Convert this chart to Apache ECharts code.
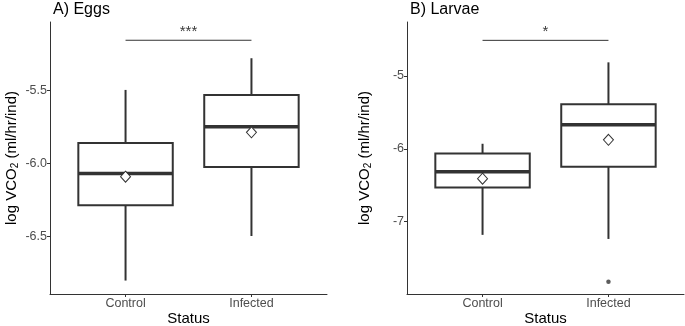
<!DOCTYPE html>
<html>
<head>
<meta charset="utf-8">
<script src="https://cdn.jsdelivr.net/npm/echarts@6/dist/echarts.min.js"></script>
<style>
html,body{margin:0;padding:0;background:#fff;}
#chart{width:685px;height:326px;}
</style>
</head>
<body>
<div id="chart"></div>
<script>
// ---- data ----
const categories = ['Control', 'Infected'];
const categoryPos = [1, 2];

// A) Eggs
const eggsLow    = [-6.800, -6.495];
const eggsQ1     = [-6.285, -6.023];
const eggsMedian = [-6.067, -5.747];
const eggsQ3     = [-5.858, -5.529];
const eggsHigh   = [-5.495, -5.278];
const eggsMean   = [-6.089, -5.785];
const eggsTicks  = [-6.5, -6.0, -5.5];
const eggsSigY   = -5.155;
const eggsSigLabel = '***';

// B) Larvae
const larvaeLow    = [-7.181, -7.237];
const larvaeQ1     = [-6.530, -6.247];
const larvaeMedian = [-6.316, -5.670];
const larvaeQ3     = [-6.065, -5.389];
const larvaeHigh   = [-5.930, -4.812];
const larvaeMean   = [-6.410, -5.876];
const larvaeOutliers = [[2, -7.824]];
const larvaeTicks  = [-7, -6, -5];
const larvaeSigY   = -4.51;
const larvaeSigLabel = '*';

// ---- build ----
function boxData(lo, q1, med, q3, hi) {
  return categoryPos.map((x, i) => [x, lo[i], q1[i], med[i], q3[i], hi[i]]);
}
function meanData(m) { return categoryPos.map((x, i) => [x, m[i]]); }

const DARK = '#333333';
const FONT = '"Liberation Sans", Arial, Helvetica, sans-serif';

function renderBox(params, api) {
  const x = api.value(0);
  const lo = api.coord([x, api.value(1)]);
  const q1 = api.coord([x, api.value(2)]);
  const med = api.coord([x, api.value(3)]);
  const q3 = api.coord([x, api.value(4)]);
  const hi = api.coord([x, api.value(5)]);
  const hw = api.size([0.75, 0])[0] / 2;
  const st = { stroke: DARK, lineWidth: 2, fill: null };
  return {
    type: 'group',
    children: [
      { type: 'line', shape: { x1: lo[0], y1: lo[1], x2: q1[0], y2: q1[1] }, style: st },
      { type: 'line', shape: { x1: q3[0], y1: q3[1], x2: hi[0], y2: hi[1] }, style: st },
      { type: 'rect', shape: { x: q1[0] - hw, y: q3[1], width: 2 * hw, height: q1[1] - q3[1] },
        style: { fill: '#ffffff', stroke: DARK, lineWidth: 2 } },
      { type: 'line', shape: { x1: med[0] - hw, y1: med[1], x2: med[0] + hw, y2: med[1] },
        style: { stroke: DARK, lineWidth: 3.5 } }
    ]
  };
}

function xAxis(gridIndex) {
  return {
    type: 'value', gridIndex: gridIndex, min: 0.4, max: 2.6,
    name: 'Status', nameLocation: 'middle', nameGap: 17, nameMoveOverlap: false,
    nameTextStyle: { fontSize: 15, color: '#000', fontFamily: FONT },
    axisLine: { show: true, onZero: false, lineStyle: { color: DARK, width: 1 } },
    axisTick: { show: true, length: 3, customValues: categoryPos, lineStyle: { color: DARK } },
    axisLabel: { customValues: categoryPos, margin: 3, fontSize: 12.5, color: '#4d4d4d', fontFamily: FONT,
      formatter: v => categories[Math.round(v) - 1] || '' },
    splitLine: { show: false }
  };
}
const yName = 'log VCO{sub|2} (ml/hr/ind)';
function yAxis(gridIndex, min, max, ticks, digits, gap) {
  return {
    type: 'value', gridIndex: gridIndex, min: min, max: max,
    name: yName, nameLocation: 'middle', nameGap: gap, nameMoveOverlap: false,
    nameTextStyle: { fontSize: 15, color: '#000', fontFamily: FONT,
      rich: { sub: { fontSize: 10, verticalAlign: 'bottom', padding: [6, 0, 0, 0], color: '#000', fontFamily: FONT } } },
    axisLine: { show: true, onZero: false, lineStyle: { color: DARK, width: 1 } },
    axisTick: { show: true, length: 3, customValues: ticks, lineStyle: { color: DARK } },
    axisLabel: { customValues: ticks, margin: 3, fontSize: 12.5, color: '#4d4d4d', fontFamily: FONT,
      formatter: v => v.toFixed(digits) },
    splitLine: { show: false }
  };
}

function panelSeries(idx, box, mean, sigY, sigLabel, outliers) {
  const s = [
    { type: 'custom', xAxisIndex: idx, yAxisIndex: idx, renderItem: renderBox,
      encode: { x: 0, y: [1, 2, 3, 4, 5] }, data: box, z: 2 },
    { type: 'scatter', xAxisIndex: idx, yAxisIndex: idx, data: mean, symbol: 'diamond',
      symbolSize: [10, 11], itemStyle: { color: '#ffffff', borderColor: DARK, borderWidth: 1, opacity: 1 }, z: 5 },
    { type: 'line', xAxisIndex: idx, yAxisIndex: idx, data: [[1, sigY], [2, sigY]], symbol: 'none',
      lineStyle: { color: DARK, width: 1 }, z: 3 },
    { type: 'scatter', xAxisIndex: idx, yAxisIndex: idx, data: [[1.5, sigY]], symbolSize: 0,
      label: { show: true, position: 'top', distance: 1, formatter: sigLabel, fontSize: 15, color: '#000', fontFamily: FONT }, z: 3 }
  ];
  if (outliers) {
    s.push({ type: 'scatter', xAxisIndex: idx, yAxisIndex: idx, data: outliers, symbol: 'circle',
      symbolSize: 4.5, itemStyle: { color: DARK }, z: 4 });
  }
  return s;
}

const chart = echarts.init(document.getElementById('chart'), null, { renderer: 'canvas' });
chart.setOption({
  animation: false,
  backgroundColor: '#ffffff',
  textStyle: { fontFamily: FONT },
  title: [
    { text: 'A) Eggs', left: 48, top: -3, textStyle: { fontSize: 16, fontWeight: 'normal', color: '#000', fontFamily: FONT } },
    { text: 'B) Larvae', left: 405, top: -3, textStyle: { fontSize: 16, fontWeight: 'normal', color: '#000', fontFamily: FONT } }
  ],
  grid: [
    { left: 50, top: 22, width: 277, height: 272, containLabel: false, outerBoundsMode: 'none' },
    { left: 407, top: 22, width: 277, height: 272, containLabel: false, outerBoundsMode: 'none' }
  ],
  xAxis: [xAxis(0), xAxis(1)],
  yAxis: [
    yAxis(0, -6.892, -5.03, eggsTicks, 1, 30),
    yAxis(1, -7.993, -4.258, larvaeTicks, 0, 34)
  ],
  series: [].concat(
    panelSeries(0, boxData(eggsLow, eggsQ1, eggsMedian, eggsQ3, eggsHigh), meanData(eggsMean), eggsSigY, eggsSigLabel, null),
    panelSeries(1, boxData(larvaeLow, larvaeQ1, larvaeMedian, larvaeQ3, larvaeHigh), meanData(larvaeMean), larvaeSigY, larvaeSigLabel, larvaeOutliers)
  )
});
</script>
</body>
</html>
